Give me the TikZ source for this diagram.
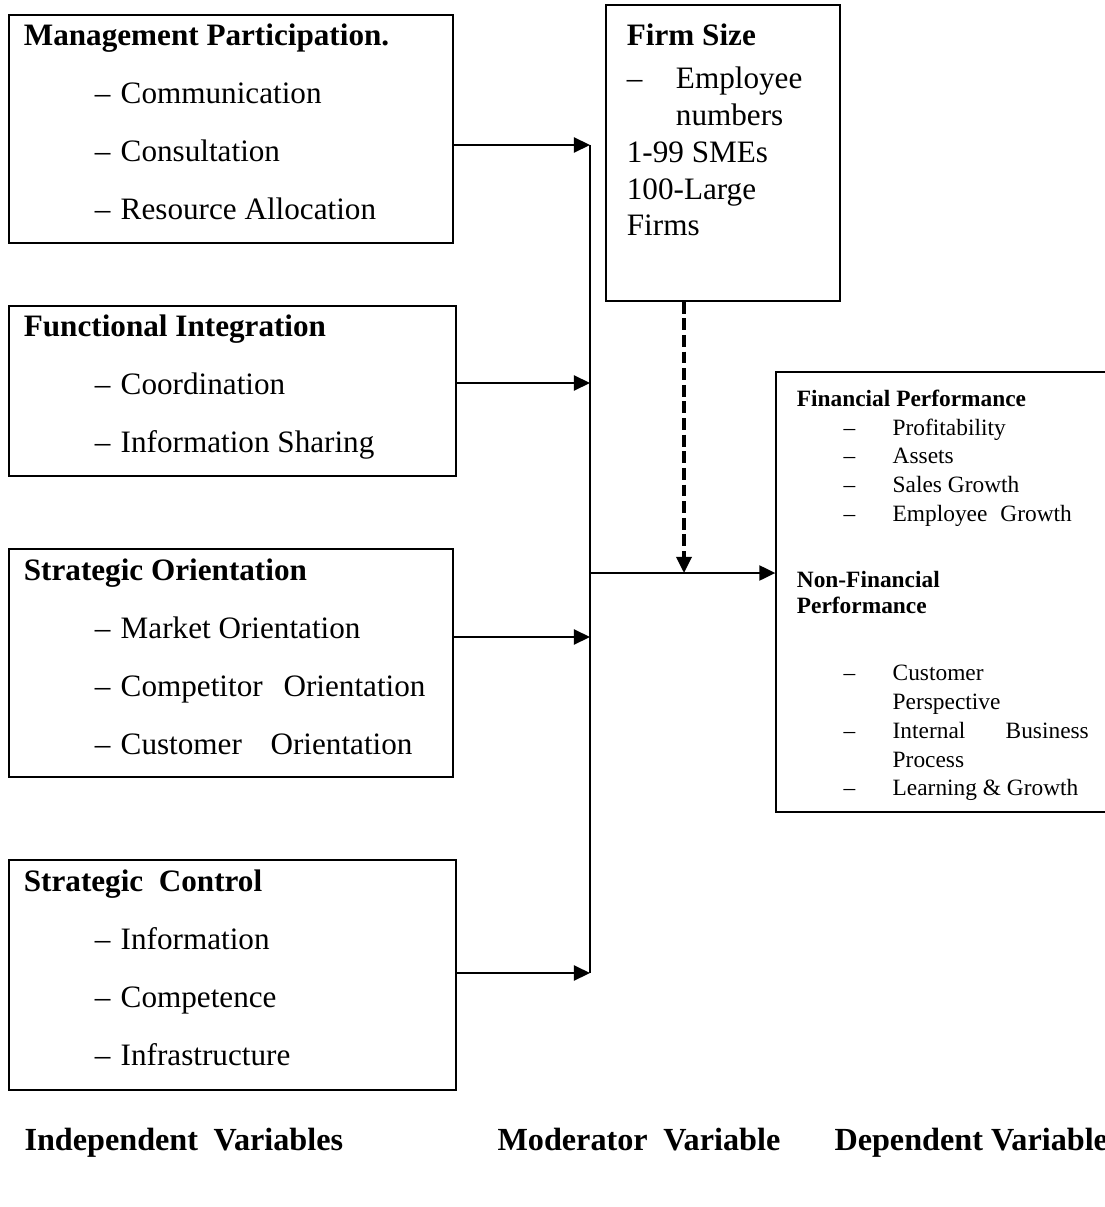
\documentclass[tikz,border=0pt]{standalone}
\usepackage{fontspec}
\setmainfont{Liberation Serif}
\usetikzlibrary{
  arrows.meta,
  calc,
  fit,
  positioning,
}
\tikzset{
  >={Triangle[length=6.2pt,width=5.8pt]},
  varbox/.style={draw, line width=0.5pt, inner sep=0pt},
  boxtext/.style={anchor=north west, inner sep=0pt, align=left,
    font=\fontsize{12}{22.3}\selectfont},
  sizetext/.style={anchor=north west, inner sep=0pt, align=left,
    font=\fontsize{12}{14.2}\selectfont},
  perftext/.style={anchor=north west, inner sep=0pt, align=left,
    font=\fontsize{9}{11.1}\selectfont},
  caption/.style={anchor=base west, inner sep=0pt,
    font=\fontsize{12.4}{14}\selectfont\bfseries},
  link/.style={->, line width=0.85pt},
  modlink/.style={->, line width=1.3pt, dash pattern=on 4.6pt off 1.8pt},
}
\newcommand{\itm}[1]{\hspace*{27.3pt}\makebox[10pt][l]{--}#1}
\newcommand{\pitm}[1]{\hspace*{18pt}\makebox[18.9pt][l]{--}#1}

\begin{document}
\begin{tikzpicture}[x=0.385pt, y=-0.385pt]
  \useasboundingbox (0,0) rectangle (1104,1207);

  % independent variables
  \node [varbox, fit={(9,15) (453,243)}] (mp) {};
  \node [boxtext] at ($(mp.north west)+(15,9)$) (mptext)
    {\textbf{Management Participation.}\\
     \itm{Communication}\\
     \itm{Consultation}\\
     \itm{Resource Allocation}};

  \node [varbox, fit={(9,306) (456,476)}] (fi) {};
  \node [boxtext] at ($(fi.north west)+(15,9)$) (fitext)
    {\textbf{Functional Integration}\\
     \itm{Coordination}\\
     \itm{Information Sharing}};

  \node [varbox, fit={(9,549) (453,777)}] (so) {};
  \node [boxtext] at ($(so.north west)+(15,10)$) (sotext)
    {\textbf{Strategic Orientation}\\
     \itm{Market Orientation}\\
     \itm{Competitor\hspace{8pt}Orientation}\\
     \itm{Customer\hspace{11pt}Orientation}};

  \node [varbox, fit={(9,860) (456,1090)}] (sc) {};
  \node [boxtext] at ($(sc.north west)+(15,10)$) (sctext)
    {\textbf{Strategic\hspace{6pt}Control}\\
     \itm{Information}\\
     \itm{Competence}\\
     \itm{Infrastructure}};

  % moderator
  \node [varbox, fit={(606,5) (840,301)}] (fs) {};
  \node [sizetext] at ($(fs.north west)+(21,19)$) (fstext)
    {\textbf{Firm Size}\\[2.3pt]
     \makebox[18.9pt][l]{--}Employee\\
     \hspace*{18.9pt}numbers\\
     1-99 SMEs\\
     100-Large\\
     Firms};

  % dependent
  \node [varbox, fit={(776,372) (1120,812)}] (perf) {};
  \node [perftext] at ($(perf.north west)+(21,18)$) (perftext)
    {\textbf{Financial Performance}\\
     \pitm{Profitability}\\
     \pitm{Assets}\\
     \pitm{Sales Growth}\\
     \pitm{Employee\hspace{5pt}Growth}\\[14.3pt]
     \textbf{Non-Financial}\\[-1.1pt]
     \textbf{Performance}\\[14.7pt]
     \pitm{Customer}\\
     \hspace*{36.9pt}Perspective\\
     \pitm{\makebox[75.5pt][l]{Internal\hfill Business}}\\
     \hspace*{36.9pt}Process\\
     \pitm{Learning \& Growth}};

  % connectors
  \coordinate (j1) at (590,145);
  \coordinate (j2) at (590,383);
  \coordinate (j3) at (590,637);
  \coordinate (j4) at (590,973);
  \coordinate (jout) at (590,573);
  \coordinate (modin) at (684,573);
  \draw [line width=0.85pt] (j1) -- (j4);
  \draw [link] (mp.east |- j1) -- (j1);
  \draw [link] (fi.east |- j2) -- (j2);
  \draw [link] (so.east |- j3) -- (j3);
  \draw [link] (sc.east |- j4) -- (j4);
  \draw [link] (jout) -- (perf.west |- jout);
  \draw [modlink] (fs.south -| modin) -- (modin);

  % captions
  \node [caption] at (24,1150) (indep) {Independent\hspace{6pt}Variables};
  \node [caption] at (497,1150) (moder) {Moderator\hspace{6pt}Variable};
  \node [caption] at (834,1150) (dep) {Dependent Variable};
\end{tikzpicture}
\end{document}
